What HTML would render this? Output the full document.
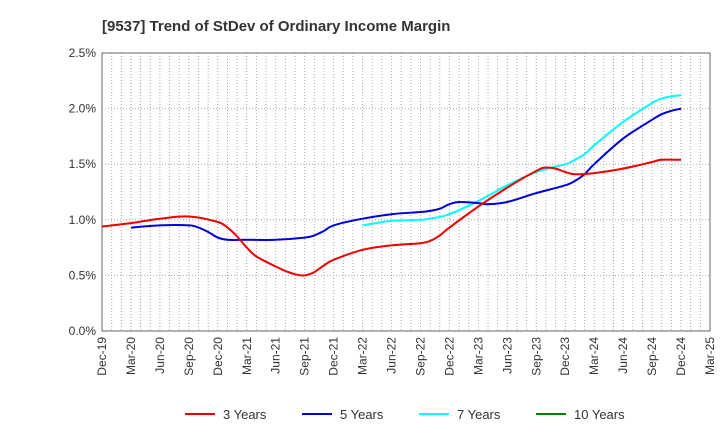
<!DOCTYPE html>
<html><head><meta charset="utf-8"><style>
body{margin:0;background:#fff;font-family:"Liberation Sans",sans-serif}
</style></head><body>
<svg width="720" height="440" xmlns="http://www.w3.org/2000/svg" font-family="Liberation Sans, sans-serif">
<text x="102" y="31" font-size="15" font-weight="bold" fill="#333">[9537]  Trend of StDev of Ordinary Income Margin</text>
<g id="grid"></g>
<g id="axes"></g>
<g id="series"></g>
<g id="legend"></g>
</svg>
<script>
const xTicks=["Dec-19","Mar-20","Jun-20","Sep-20","Dec-20","Mar-21","Jun-21","Sep-21","Dec-21","Mar-22","Jun-22","Sep-22","Dec-22","Mar-23","Jun-23","Sep-23","Dec-23","Mar-24","Jun-24","Sep-24","Dec-24","Mar-25"];
const yTicks=[0,0.5,1.0,1.5,2.0,2.5];
// month index from Dec-19, value %
const s3m=[0,3,6,9,12,13,14,15,16,18,19,20,21,22,23,24,27,30,33,34,35,36,39,42,45,46,47,48,49,51,54,57,58,60];
const s3v=[0.94,0.97,1.01,1.03,0.98,0.93,0.85,0.75,0.67,0.58,0.54,0.51,0.50,0.53,0.59,0.64,0.73,0.77,0.79,0.81,0.86,0.93,1.12,1.29,1.44,1.47,1.46,1.43,1.41,1.42,1.46,1.52,1.54,1.54];
const s5m=[3,6,9,10,11,12,13,15,18,21,22,23,24,27,30,33,34,35,36,37,39,40,42,45,48,49,50,51,54,57,58,59,60];
const s5v=[0.93,0.95,0.95,0.93,0.89,0.84,0.82,0.82,0.82,0.84,0.86,0.90,0.95,1.01,1.05,1.07,1.08,1.10,1.14,1.16,1.15,1.14,1.16,1.24,1.31,1.35,1.41,1.50,1.73,1.90,1.95,1.98,2.00];
const s7m=[27,30,33,34,36,39,42,45,48,49,50,51,54,57,58,59,60];
const s7v=[0.95,0.99,1.00,1.01,1.05,1.17,1.31,1.43,1.50,1.54,1.59,1.67,1.88,2.05,2.09,2.11,2.12];
const X0=102,X1=710,Y0=331,Y1=53,NM=63;
const xs=m=>X0+(X1-X0)*m/NM, ys=v=>Y0-(Y0-Y1)*v/2.5;
const NS="http://www.w3.org/2000/svg";
function mk(t,a,p){const e=document.createElementNS(NS,t);for(const k in a)e.setAttribute(k,a[k]);p.appendChild(e);return e;}
const grid=document.getElementById('grid'),axes=document.getElementById('axes'),ser=document.getElementById('series'),leg=document.getElementById('legend');
for(let m=1;m<NM;m++){const l=mk('line',{x1:xs(m),x2:xs(m),y1:Y1,y2:Y0,stroke:'#aaa','stroke-dasharray':'1,2','stroke-width':1},grid);

}
yTicks.forEach(v=>{const l=mk('line',{x1:X0,x2:X1,y1:ys(v),y2:ys(v),stroke:'#aaa','stroke-dasharray':'1,2'},grid);


const t=mk('text',{x:X0-6,y:ys(v)+4,'text-anchor':'end','font-size':12,fill:'#333'},axes);t.textContent=v.toFixed(1)+'%';

});
const fr=mk('rect',{x:X0,y:Y1,width:X1-X0,height:Y0-Y1,fill:'none',stroke:'#666'},axes);


xTicks.forEach((s,i)=>{const x=xs(i*3);const t=mk('text',{x:x+4,y:Y0+6,'text-anchor':'end','font-size':12,fill:'#333',transform:`rotate(-90 ${x+4} ${Y0+6})`},axes);t.textContent=s;

});
function line(ms,vs,c,n){const P=ms.map((m,i)=>[xs(m),ys(vs[i])]);
let d='M'+P[0][0].toFixed(1)+','+P[0][1].toFixed(1);
for(let i=0;i<P.length-1;i++){const p0=P[Math.max(0,i-1)],p1=P[i],p2=P[i+1],p3=P[Math.min(P.length-1,i+2)];
const c1=[p1[0]+(p2[0]-p0[0])/6,p1[1]+(p2[1]-p0[1])/6],c2=[p2[0]-(p3[0]-p1[0])/6,p2[1]-(p3[1]-p1[1])/6];
d+='C'+c1[0].toFixed(1)+','+c1[1].toFixed(1)+' '+c2[0].toFixed(1)+','+c2[1].toFixed(1)+' '+p2[0].toFixed(1)+','+p2[1].toFixed(1);}
const p=mk('path',{d:d,fill:'none',stroke:c,'stroke-width':2,'stroke-linejoin':'round'},ser);

}
line(s7m,s7v,'#00ffff','line-7-years');
line(s5m,s5v,'#0000dd','line-5-years');
line(s3m,s3v,'#ee0000','line-3-years');
[["3 Years","#ee0000",185],["5 Years","#0000dd",302],["7 Years","#00ffff",419],["10 Years","#008000",536]].forEach(([n,c,x])=>{
const g=mk('g',{},leg);


mk('line',{x1:x,x2:x+30,y1:414,y2:414,stroke:c,'stroke-width':2},g);
const t=mk('text',{x:x+38,y:419,'font-size':13,fill:'#333'},g);t.textContent=n;});
</script>
</body></html>
